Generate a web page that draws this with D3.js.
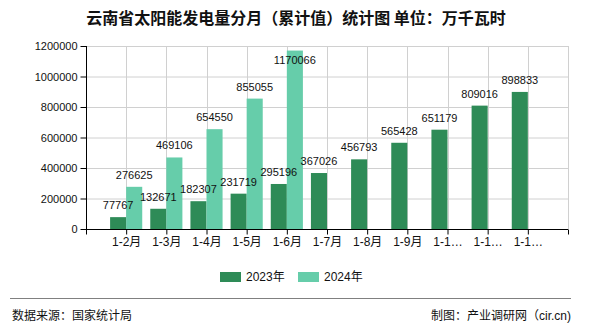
<!DOCTYPE html>
<html>
<head>
<meta charset="utf-8">
<script src="https://cdn.jsdelivr.net/npm/d3@7"></script>
<style>
  html, body { margin: 0; padding: 0; background: #fff; }
  svg { display: block; }
  text { font-family: "Liberation Sans", "Noto Sans CJK SC", sans-serif; fill: #111; }
</style>
</head>
<body>
<svg id="chart" width="590" height="330"></svg>
<script>
// Cumulative monthly solar generation, Yunnan (unit: 10,000 kWh)
const categories = ["1-2月", "1-3月", "1-4月", "1-5月", "1-6月", "1-7月", "1-8月", "1-9月", "1-10月", "1-11月", "1-12月"];
const values2023 = [77767, 132671, 182307, 231719, 295196, 367026, 456793, 565428, 651179, 809016, 898833];
const values2024 = [276625, 469106, 654550, 855055, 1170066];
const yTicks = [0, 200000, 400000, 600000, 800000, 1000000, 1200000];
const seriesNames = ["2023年", "2024年"];
const colors = ["#2e8b57", "#66cdaa"];

const svg = d3.select("#chart");
const m = { left: 86, right: 568, top: 46, bottom: 229 };

const x = d3.scalePoint().domain(categories).range([m.left, m.right]).padding(1);
const y = d3.scaleLinear().domain([0, 1200000]).range([m.bottom, m.top]);
const step = x.step();
const bw = step * 0.4;

// Title
svg.append("text")
  .attr("x", 296).attr("y", 24)
  .attr("text-anchor", "middle")
  .style("font-family", "'Noto Sans CJK SC', sans-serif")
  .style("font-size", "16px").style("font-weight", "bold")
  .text("云南省太阳能发电量分月（累计值）统计图 单位：万千瓦时");

// Horizontal grid
svg.append("g").selectAll("line").data(yTicks).join("line")
  .attr("x1", m.left).attr("x2", m.right)
  .attr("y1", d => y(d) + 0.5).attr("y2", d => y(d) + 0.5)
  .attr("stroke", "#d0d0d0");

// Vertical grid at category positions and right edge
const vLines = categories.map(c => x(c)).concat([m.right]);
svg.append("g").selectAll("line").data(vLines).join("line")
  .attr("x1", d => Math.round(d) + 0.5).attr("x2", d => Math.round(d) + 0.5)
  .attr("y1", m.top).attr("y2", m.bottom)
  .attr("stroke", "#d0d0d0");

// Bars
const g = svg.append("g");
g.selectAll("rect.s0").data(values2023).join("rect")
  .attr("x", (d, i) => x(categories[i]) - bw)
  .attr("y", d => y(d))
  .attr("width", bw)
  .attr("height", d => m.bottom - y(d))
  .attr("fill", colors[0]);
g.selectAll("rect.s1").data(values2024).join("rect")
  .attr("class", "s1")
  .attr("x", (d, i) => x(categories[i]))
  .attr("y", d => y(d))
  .attr("width", bw)
  .attr("height", d => m.bottom - y(d))
  .attr("fill", colors[1]);

// Value labels
function labelY(v) {
  const top = y(v);
  return (top - 20 < m.top) ? top + 13 : top - 8;
}
const lg = svg.append("g").style("font-size", "11px");
lg.selectAll("text.l0").data(values2023).join("text")
  .attr("x", (d, i) => x(categories[i]) - bw / 2)
  .attr("y", d => labelY(d))
  .attr("text-anchor", "middle")
  .text(d => d);
lg.selectAll("text.l1").data(values2024).join("text")
  .attr("class", "l1")
  .attr("x", (d, i) => x(categories[i]) + bw / 2)
  .attr("y", d => labelY(d))
  .attr("text-anchor", "middle")
  .text(d => d);

// Y axis
const yAxis = d3.axisLeft(y).tickValues(yTicks).tickSize(6).tickPadding(3).tickFormat(d3.format("d"));
const ya = svg.append("g").attr("transform", `translate(${m.left + 0.5},0)`).call(yAxis);
ya.selectAll("text").style("font-size", "11px").attr("fill", "#111");
ya.selectAll("line").attr("stroke", "#000");
ya.select(".domain").attr("stroke", "#000").attr("d", `M0,${m.top}V${m.bottom}`);

// X axis
const xAxis = d3.axisBottom(x).tickSize(5).tickPadding(3)
  .tickFormat(d => d.length > 4 ? d.slice(0, 3) + "…" : d);
const xa = svg.append("g").attr("transform", `translate(0,${m.bottom + 0.5})`).call(xAxis);
xa.selectAll("text").style("font-size", "12px").attr("fill", "#111");
xa.selectAll("line").attr("stroke", "#000");
xa.select(".domain").attr("stroke", "#000").attr("d", `M${m.left},0H${m.right}`);
xa.selectAll("line.edge").data([m.left, m.right]).join("line")
  .attr("class", "edge")
  .attr("x1", d => d + 0.5).attr("x2", d => d + 0.5)
  .attr("y1", 0).attr("y2", 5).attr("stroke", "#000");

// Legend
const leg = svg.append("g");
const legX = [220, 298];
seriesNames.forEach((name, i) => {
  leg.append("rect").attr("x", legX[i]).attr("y", 272).attr("width", 21).attr("height", 10).attr("fill", colors[i]);
  leg.append("text").attr("x", legX[i] + 26).attr("y", 281)
    .style("font-size", "12px").attr("fill", "#333").text(name);
});

// Footer
svg.append("line").attr("x1", 10).attr("x2", 571).attr("y1", 298.5).attr("y2", 298.5)
  .attr("stroke", "#808080").attr("stroke-width", 1.2);
svg.append("text").attr("x", 12).attr("y", 320)
  .style("font-size", "12px").attr("fill", "#444").text("数据来源：国家统计局");
svg.append("text").attr("x", 571).attr("y", 320).attr("text-anchor", "end")
  .style("font-size", "12px").attr("fill", "#444").text("制图：产业调研网（cir.cn)");
</script>
</body>
</html>
